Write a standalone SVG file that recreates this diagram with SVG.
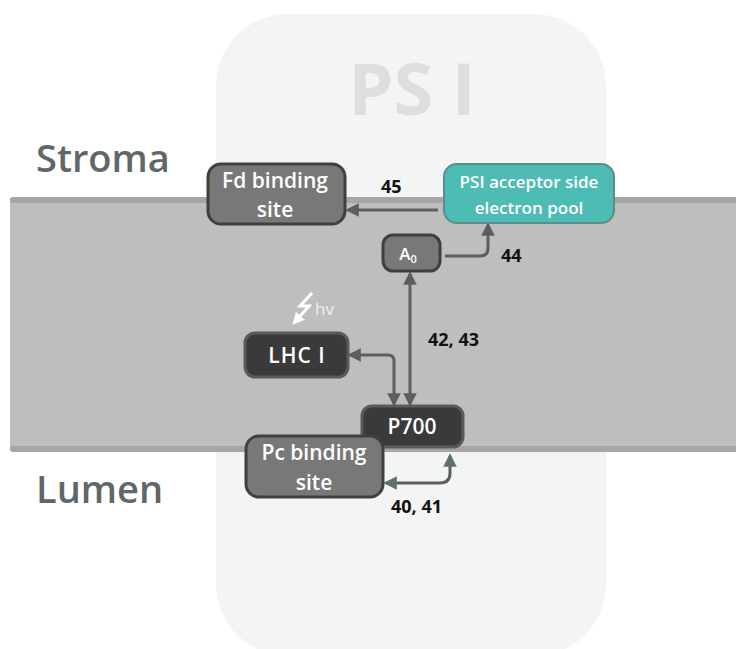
<svg xmlns="http://www.w3.org/2000/svg" width="736" height="649" viewBox="0 0 736 649">
<defs>
<marker id="ah" viewBox="0 0 10 10" refX="8" refY="5" markerWidth="4.5" markerHeight="4.5" orient="auto-start-reverse" markerUnits="strokeWidth">
<path d="M0,0 L10,5 L0,10 z" fill="#5e5e5e"/>
</marker>
<marker id="aht" viewBox="0 0 10 10" refX="8" refY="5" markerWidth="4.5" markerHeight="4.5" orient="auto-start-reverse" markerUnits="strokeWidth">
<path d="M0,0 L10,5 L0,10 z" fill="#5f706e"/>
</marker>
<marker id="ahw" viewBox="0 0 10 10" refX="8" refY="5" markerWidth="4" markerHeight="4" orient="auto" markerUnits="strokeWidth">
<path d="M0,0 L10,5 L0,10 z" fill="#ffffff"/>
</marker>
</defs>
<style>
.t{font-family:"Open Sans","Liberation Sans",sans-serif}
.region{font-size:38px;font-weight:600;fill:#5f6868}
.nodeg{fill:#787878;stroke:#3f3f3f;stroke-width:3}
.noded{fill:#3a3a3a;stroke:#5a5a5a;stroke-width:3}
.nl{font-size:21px;font-weight:600;fill:#ffffff;text-anchor:middle}
.num{font-size:18px;font-weight:700;fill:#111111}
.con{fill:none;stroke:#5e5e5e;stroke-width:3}
</style>
<rect width="736" height="649" fill="#ffffff"/>
<rect x="216" y="14" width="390" height="642" rx="72" fill="#f3f4f4"/>
<text class="t" x="412" y="115" font-size="72" font-weight="700" fill="#dcdedf" text-anchor="middle">PS I</text>
<g id="membrane">
<rect x="10" y="197" width="740" height="255" rx="4" fill="#bebebe"/>
<rect x="10" y="197" width="740" height="6" rx="3" fill="#a6a6a6"/>
<rect x="10" y="446" width="740" height="6" rx="3" fill="#a6a6a6"/>
</g>
<text class="t region" x="36" y="172">Stroma</text>
<text class="t region" x="36" y="503">Lumen</text>
<g id="connectors">
<path class="con" d="M438,210 H348" marker-end="url(#ah)"/>
<path class="con" d="M445,256 H480 Q488,256 488,248 V225" marker-end="url(#ah)"/>
<path class="con" d="M410,274 V404" marker-start="url(#ah)" marker-end="url(#ah)"/>
<path class="con" d="M350,355 H388 Q394,355 394,361 V404" marker-start="url(#ah)" marker-end="url(#ah)"/>
<path class="con" d="M386,483 H440 Q450,483 450,473 V456" stroke="#5f706e" marker-start="url(#aht)" marker-end="url(#aht)"/>
</g>
<g id="hv">
<path d="M312,293 L300,306 L309,306 L294,323" fill="none" stroke="#ffffff" stroke-width="3" marker-end="url(#ahw)"/>
<text class="t" x="315" y="315" font-size="17" fill="#f0f0f0">hv</text>
</g>
<g id="fd">
<rect class="nodeg" x="208" y="164" width="137" height="60" rx="13"/>
<text class="t nl" x="275" y="188">Fd binding</text>
<text class="t nl" x="275" y="217">site</text>
</g>
<g id="pool">
<rect x="444" y="164" width="170" height="59" rx="13" fill="#4dbcb5" stroke="#5b8d8a" stroke-width="2"/>
<text class="t" x="529" y="188" font-size="17" font-weight="600" fill="#ffffff" text-anchor="middle">PSI acceptor side</text>
<text class="t" x="529" y="214" font-size="17" font-weight="600" fill="#ffffff" text-anchor="middle">electron pool</text>
</g>
<g id="a0">
<rect class="nodeg" x="383" y="235" width="57" height="36" rx="10"/>
<text class="t" x="408" y="260" font-size="17" font-weight="600" fill="#ffffff" text-anchor="middle">A<tspan font-size="11" dy="3">0</tspan></text>
</g>
<g id="lhc">
<rect class="noded" x="245" y="333" width="103" height="44" rx="10"/>
<text class="t nl" x="297" y="363" font-size="20" letter-spacing="1">LHC I</text>
</g>
<g id="p700">
<rect class="noded" x="362" y="406" width="101" height="41" rx="10"/>
<text class="t nl" x="412" y="434" font-size="20">P700</text>
</g>
<g id="pc">
<rect class="nodeg" x="246" y="436" width="137" height="61" rx="13"/>
<text class="t nl" x="314" y="460">Pc binding</text>
<text class="t nl" x="314" y="490">site</text>
</g>
<text class="t num" x="381" y="193">45</text>
<text class="t num" x="501" y="262">44</text>
<text class="t num" x="428" y="346">42, 43</text>
<text class="t num" x="391" y="513">40, 41</text>
</svg>
